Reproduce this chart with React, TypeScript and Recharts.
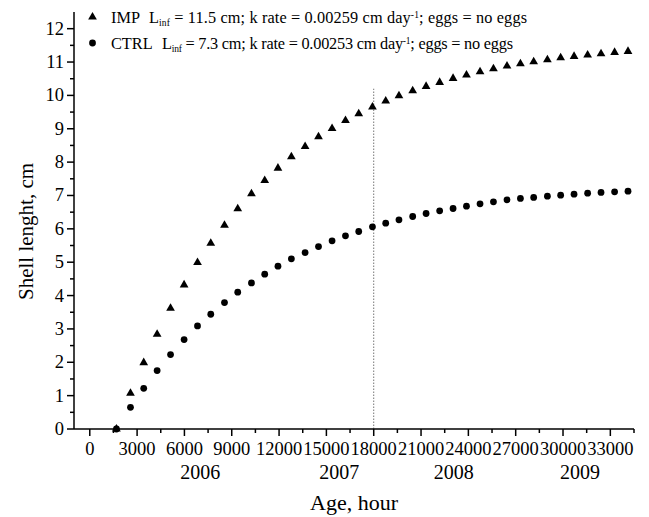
import React from 'react';
import { ScatterChart, Scatter, XAxis, YAxis, ReferenceLine, ReferenceDot, Label, Symbols } from 'recharts';

const FONT = '"Liberation Serif", "Times New Roman", serif';

// Age in hours of each measurement
const ageHours = [1690, 2580, 3420, 4270, 5120, 5980, 6830, 7670, 8540, 9380, 10250, 11090, 11930, 12780, 13650, 14500, 15360, 16210, 17050, 17920, 18760, 19600, 20470, 21320, 22180, 23030, 23880, 24740, 25590, 26450, 27300, 28140, 29010, 29850, 30700, 31560, 32410, 33270, 34120];
// IMP shell length (cm)
const impLength = [0, 1.07, 1.99, 2.84, 3.62, 4.32, 4.99, 5.57, 6.11, 6.6, 7.05, 7.45, 7.82, 8.16, 8.47, 8.76, 9.01, 9.25, 9.45, 9.65, 9.83, 9.99, 10.14, 10.27, 10.39, 10.51, 10.61, 10.71, 10.8, 10.88, 10.95, 11.01, 11.07, 11.13, 11.17, 11.21, 11.25, 11.29, 11.32];
// CTRL shell length (cm)
const ctrlLength = [0, 0.65, 1.22, 1.75, 2.23, 2.68, 3.09, 3.44, 3.79, 4.1, 4.38, 4.64, 4.88, 5.1, 5.29, 5.47, 5.64, 5.79, 5.92, 6.06, 6.17, 6.27, 6.37, 6.46, 6.54, 6.61, 6.68, 6.75, 6.81, 6.87, 6.91, 6.94, 6.98, 7.01, 7.04, 7.07, 7.09, 7.11, 7.13];

const xTicks = [0, 1500, 3000, 4500, 6000, 7500, 9000, 10500, 12000, 13500, 15000, 16500, 18000, 19500, 21000, 22500, 24000, 25500, 27000, 28500, 30000, 31500, 33000, 34500];
const xLabeled = [0, 3000, 6000, 9000, 12000, 15000, 18000, 21000, 24000, 27000, 30000, 33000];
const yTicks = [0, 0.5, 1, 1.5, 2, 2.5, 3, 3.5, 4, 4.5, 5, 5.5, 6, 6.5, 7, 7.5, 8, 8.5, 9, 9.5, 10, 10.5, 11, 11.5, 12];
const yLabeled = [0, 1, 2, 3, 4, 5, 6, 7, 8, 9, 10, 11, 12];

const yearNames = ['2006', '2007', '2008', '2009'];
const yearHours = [7000, 15810, 23070, 31070];

const markerHour = 18000;
const markerTop = 10.2;

const impData = ageHours.map((x, i) => ({ x, y: impLength[i] }));
const ctrlData = ageHours.map((x, i) => ({ x, y: ctrlLength[i] }));

const XTick = (props: any) => {
  const { x, y, payload } = props;
  const v = Number(payload.value);
  const major = xLabeled.includes(v);
  return (
    <g>
      <line x1={x} y1={y} x2={x} y2={y + (major ? 7 : 4)} stroke="#000" strokeWidth={1.5} />
      {major && (
        <text x={x} y={y + 26} textAnchor="middle" fontSize={18.5} fontFamily={FONT} fill="#000">
          {v}
        </text>
      )}
    </g>
  );
};

const YTick = (props: any) => {
  const { x, y, payload } = props;
  const v = Number(payload.value);
  const major = yLabeled.includes(v);
  return (
    <g>
      <line x1={x - (major ? 7 : 4)} y1={y} x2={x} y2={y} stroke="#000" strokeWidth={1.5} />
      {major && (
        <text x={x - 10} y={y + 6} textAnchor="end" fontSize={18.5} fontFamily={FONT} fill="#000">
          {v}
        </text>
      )}
    </g>
  );
};

const YTitle = (props: any) => {
  const vb = props.viewBox || { x: 0, y: 12, width: 74, height: 417 };
  const cx = vb.x + 26;
  const cy = vb.y + vb.height / 2 + 11;
  return (
    <text x={cx} y={cy} transform={`rotate(-90, ${cx}, ${cy})`} textAnchor="middle" dominantBaseline="central" fontSize={21} fontFamily={FONT} fill="#000">
      Shell lenght, cm
    </text>
  );
};

const Triangle = (props: any) => <Symbols type="triangle" size={33} cx={props.cx} cy={props.cy} fill="#000" />;
const Dot = (props: any) => <Symbols type="circle" size={36} cx={props.cx} cy={props.cy} fill="#000" />;

export default function App() {
  return (
    <div style={{ position: 'absolute', left: 0, top: 0, width: 649, height: 517, background: '#fff' }}>
      <ScatterChart width={649} height={517} margin={{ top: 12, right: 15, bottom: 58, left: 0 }}>
        <XAxis
          type="number"
          dataKey="x"
          domain={[-1000, 34500]}
          ticks={xTicks}
          interval={0}
          tickSize={0}
          tickMargin={0}
          tick={<XTick />}
          axisLine={{ stroke: '#000', strokeWidth: 1.5 }}
          height={30}
        >
          <Label value="Age, hour" position="bottom" offset={35} fontSize={22} fontFamily={FONT} fill="#000" />
        </XAxis>
        <YAxis
          type="number"
          dataKey="y"
          domain={[0, 12.5]}
          ticks={yTicks}
          interval={0}
          tickSize={0}
          tickMargin={0}
          tick={<YTick />}
          axisLine={{ stroke: '#000', strokeWidth: 1.5 }}
          width={74}
        >
          <Label content={<YTitle />} />
        </YAxis>
        <ReferenceLine
          segment={[{ x: markerHour, y: 0 }, { x: markerHour, y: markerTop }]}
          stroke="#777"
          strokeWidth={1}
          strokeDasharray="1.5 1.5"
        />
        {yearNames.map((name, i) => (
          <ReferenceDot
            key={name}
            x={yearHours[i]}
            y={0}
            r={0}
            fill="none"
            stroke="none"
            label={{ value: name, position: 'bottom', offset: 36, fontSize: 20, fontFamily: FONT, fill: '#000' }}
          />
        ))}
        <Scatter name="IMP" data={impData} shape={<Triangle />} fill="#000" isAnimationActive={false} />
        <Scatter name="CTRL" data={ctrlData} shape={<Dot />} fill="#000" isAnimationActive={false} />
      </ScatterChart>
      <svg width={649} height={60} style={{ position: 'absolute', left: 0, top: 0, pointerEvents: 'none' }}>
        <Symbols type="triangle" size={33} cx={92.5} cy={17} fill="#000" />
        <Symbols type="circle" size={36} cx={92.5} cy={43} fill="#000" />
        <g fontFamily={FONT} fontSize={16.3} fill="#000">
          <text x={111} y={23}>IMP</text>
          <text x={149} y={23} textLength={378} lengthAdjust="spacing">
            L<tspan dy={3} fontSize={9.5}>inf</tspan>
            <tspan dy={-3}> = 11.5 cm; k rate = 0.00259 cm day</tspan>
            <tspan dy={-5} fontSize={9.5}>-1</tspan>
            <tspan dy={5}>; eggs = no eggs</tspan>
          </text>
          <text x={111} y={49}>CTRL</text>
          <text x={162} y={49} textLength={351} lengthAdjust="spacing">
            L<tspan dy={3} fontSize={9.5}>inf</tspan>
            <tspan dy={-3}> = 7.3 cm; k rate = 0.00253 cm day</tspan>
            <tspan dy={-5} fontSize={9.5}>-1</tspan>
            <tspan dy={5}>; eggs = no eggs</tspan>
          </text>
        </g>
      </svg>
    </div>
  );
}
